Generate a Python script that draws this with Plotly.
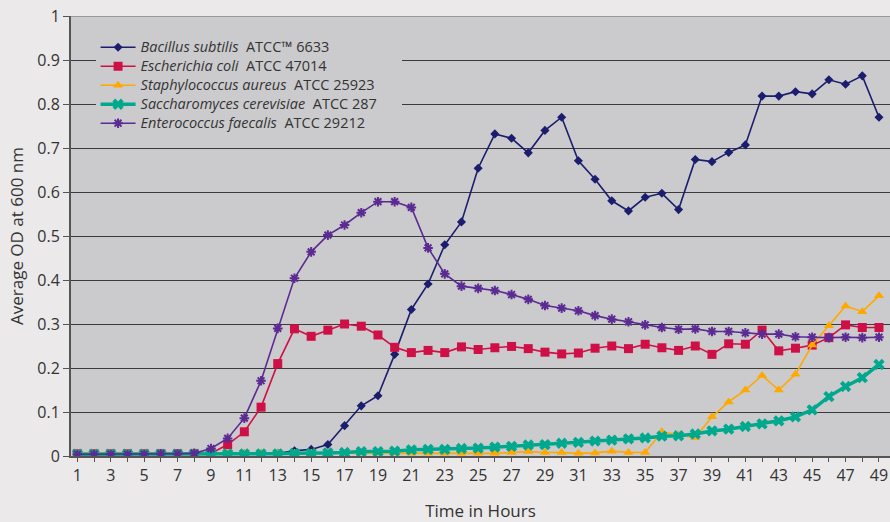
import plotly.graph_objects as go

hours = list(range(1, 50))
x_tick_labels = [str(h) for h in range(1, 50, 2)]

bacillus = [0.005, 0.005, 0.005, 0.005, 0.005, 0.005, 0.005, 0.005, 0.005, 0.005,
            0.005, 0.005, 0.006, 0.012, 0.015, 0.026, 0.069, 0.114, 0.137, 0.231,
            0.333, 0.391, 0.48, 0.532, 0.654, 0.732, 0.722, 0.689, 0.74, 0.77,
            0.671, 0.629, 0.58, 0.557, 0.588, 0.597, 0.56, 0.674, 0.669, 0.69,
            0.707, 0.818, 0.818, 0.828, 0.823, 0.855, 0.845, 0.864, 0.77]
ecoli = [0.005, 0.005, 0.005, 0.005, 0.005, 0.005, 0.005, 0.005, 0.006, 0.026,
         0.055, 0.111, 0.21, 0.289, 0.272, 0.286, 0.3, 0.295, 0.275, 0.247,
         0.235, 0.24, 0.235, 0.248, 0.242, 0.246, 0.249, 0.244, 0.236, 0.232,
         0.234, 0.245, 0.25, 0.244, 0.254, 0.246, 0.24, 0.25, 0.231, 0.255,
         0.254, 0.286, 0.239, 0.245, 0.252, 0.269, 0.298, 0.292, 0.292]
saureus = [0.007, 0.007, 0.007, 0.007, 0.007, 0.007, 0.006, 0.006, 0.006, 0.006,
           0.006, 0.006, 0.006, 0.006, 0.006, 0.006, 0.006, 0.006, 0.006, 0.006,
           0.006, 0.006, 0.006, 0.006, 0.006, 0.006, 0.008, 0.01, 0.008, 0.008,
           0.006, 0.007, 0.011, 0.008, 0.008, 0.055, 0.048, 0.042, 0.089, 0.123,
           0.15, 0.183, 0.15, 0.186, 0.252, 0.296, 0.341, 0.328, 0.364]
scerevisiae = [0.004, 0.004, 0.004, 0.004, 0.004, 0.004, 0.004, 0.004, 0.004, 0.005,
               0.005, 0.005, 0.005, 0.006, 0.006, 0.007, 0.008, 0.01, 0.01, 0.011,
               0.014, 0.015, 0.015, 0.017, 0.018, 0.02, 0.022, 0.025, 0.026, 0.029,
               0.031, 0.034, 0.036, 0.039, 0.041, 0.045, 0.046, 0.05, 0.057, 0.061,
               0.067, 0.073, 0.08, 0.089, 0.105, 0.135, 0.158, 0.178, 0.208]
efaecalis = [0.004, 0.004, 0.004, 0.004, 0.004, 0.005, 0.005, 0.006, 0.017, 0.04,
             0.086, 0.171, 0.29, 0.404, 0.464, 0.502, 0.525, 0.553, 0.578, 0.578,
             0.565, 0.473, 0.414, 0.386, 0.381, 0.376, 0.367, 0.356, 0.342, 0.336,
             0.33, 0.319, 0.311, 0.305, 0.298, 0.292, 0.288, 0.289, 0.283, 0.283,
             0.28, 0.277, 0.277, 0.271, 0.27, 0.269, 0.27, 0.269, 0.27]

series = [
    ("<i>Bacillus subtilis</i>  ATCC\u2122 6633", bacillus, "#1b1d6e", 1.6,
     dict(symbol="diamond", size=7)),
    ("<i>Escherichia coli</i>  ATCC 47014", ecoli, "#cf1046", 1.6,
     dict(symbol="square", size=9)),
    ("<i>Staphylococcus aureus</i>  ATCC 25923", saureus, "#ffa800", 1.6,
     dict(symbol="triangle-up", size=9)),
    ("<i>Saccharomyces cerevisiae</i>  ATCC 287", scerevisiae, "#00a88e", 3.5,
     dict(symbol="x", size=10)),
    ("<i>Enterococcus faecalis</i>  ATCC 29212", efaecalis, "#5b2a93", 1.6,
     dict(symbol="asterisk-open", size=8, line=dict(width=2))),
]

fig = go.Figure()
for name, vals, color, lw, mk in series:
    m = dict(mk)
    m["color"] = color
    if "line" in m:
        m["line"] = dict(width=m["line"]["width"], color=color)
    label = '<span style="font-size:14.5px">' + name + "&nbsp;" * 5 + "</span>"
    fig.add_trace(go.Scatter(x=hours, y=vals, mode="lines+markers", name=label,
                             line=dict(color=color, width=lw), marker=m))

font_family = "Open Sans, Noto Sans, sans-serif"
fig.update_layout(
    width=890, height=522,
    margin=dict(l=71, r=0, t=16, b=60),
    paper_bgcolor="#ebe9ea",
    plot_bgcolor="#cbcbcd",
    font=dict(family=font_family, color="#333333", size=16),
    showlegend=True,
    legend=dict(x=0.03, y=0.962, xanchor="left", yanchor="top",
                bgcolor="#cbcbcd", borderwidth=0,
                font=dict(size=12, color="#333333"),
                tracegroupgap=0, itemwidth=35),
    xaxis=dict(range=[0.62, 49.66], tickmode="array",
               tickvals=list(range(1, 50, 2)), ticktext=x_tick_labels,
               showgrid=False, zeroline=False, showline=True,
               linecolor="#555555", linewidth=2,
               ticks="outside", ticklen=4, tickcolor="#555555",
               minor=dict(ticks="outside", ticklen=4, tickcolor="#555555", dtick=1, tick0=0),
               tickfont=dict(size=16),
               title=dict(text="Time in Hours", font=dict(size=17), standoff=24)),
    yaxis=dict(range=[0, 1], dtick=0.1, tick0=0, showgrid=True,
               gridcolor="#3a3a3a", gridwidth=1.2,
               zeroline=False, showline=True, linecolor="#555555", linewidth=2,
               ticks="outside", ticklen=6, tickcolor="#555555",
               tickformat="~g", tickfont=dict(size=16),
               title=dict(text="Average OD at 600 nm", font=dict(size=17), standoff=9)),
)
fig.add_shape(type="line", xref="paper", yref="y", x0=0, x1=1, y0=1, y1=1,
              line=dict(color="#999999", width=2), layer="above")

fig.write_html("out.html")
